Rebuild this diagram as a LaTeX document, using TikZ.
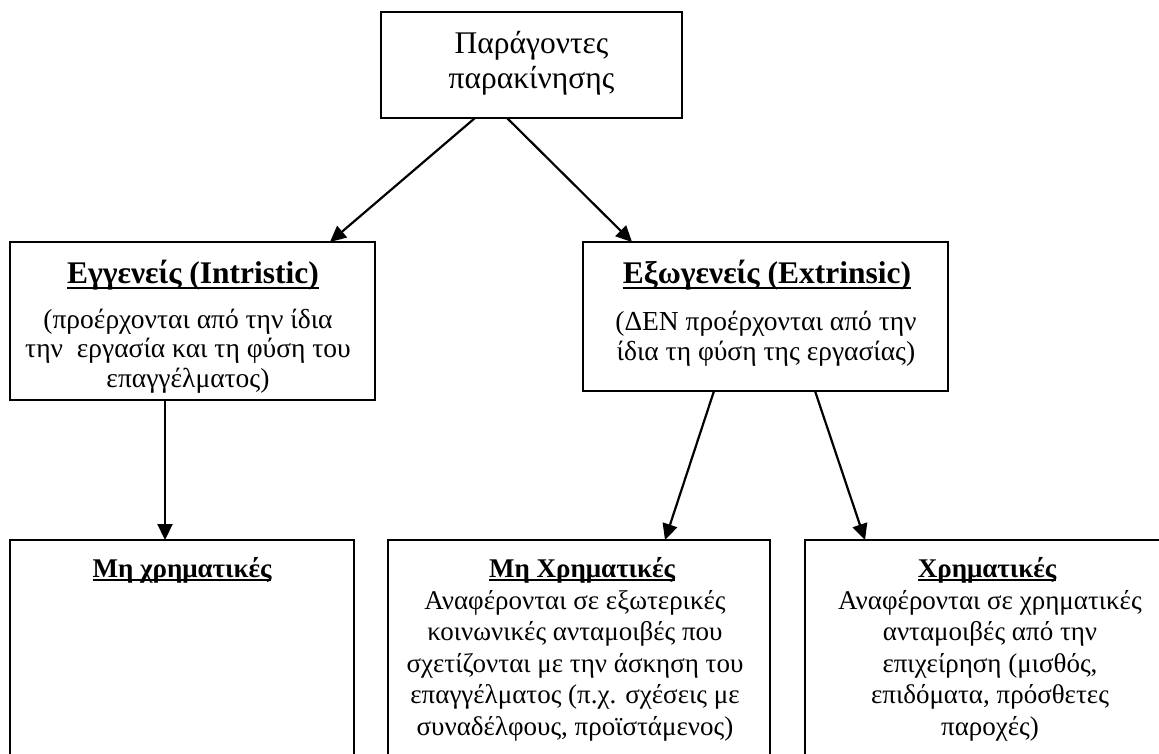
\documentclass[tikz,border=0pt]{standalone}
\usepackage{fontspec}
\setmainfont{Liberation Serif}
\usetikzlibrary{arrows.meta}
% bold heading with a rule drawn under it (optional argument: depth of the rule)
\newcommand\hdline[2][0.2em]{\setbox0\hbox{#2}\rlap{\rule[-#1]{\wd0}{0.07em}}\box0}
\tikzset{
  box/.style={draw, line width=2.2pt, rectangle, inner sep=0pt, outer sep=0pt},
  conn/.style={line width=2.2pt, -{Triangle[length=16pt,width=15pt]}},
  title/.style={inner sep=0pt, align=center, anchor=north, font=\fontsize{31.5}{35}\selectfont},
  head/.style={inner sep=0pt, anchor=base, font=\fontsize{31.5}{35}\selectfont\bfseries},
  subhead/.style={inner sep=0pt, anchor=base, font=\fontsize{27}{31}\selectfont\bfseries},
  body/.style={inner sep=0pt, align=center, anchor=north, font=\fontsize{27.5}{29.7}\selectfont},
  lowbody/.style={inner sep=0pt, align=center, anchor=north, font=\fontsize{27}{31.5}\selectfont},
}
\begin{document}
\begin{tikzpicture}[x=1pt,y=-1pt]
\useasboundingbox (0,0) rectangle (1159,754);
\fill[white] (0,0) rectangle (1159,754);
\clip (0,0) rectangle (1159,754);

% boxes
\node[box, minimum width=301pt, minimum height=106pt] (top) at (531.5,65) {};
\node[box, minimum width=365pt, minimum height=158pt] (intr) at (192.5,321) {};
\node[box, minimum width=365pt, minimum height=149pt] (extr) at (765.5,316.5) {};
\node[box, minimum width=344pt, minimum height=240pt] (nonfinA) at (182,660) {};
\node[box, minimum width=382pt, minimum height=240pt] (nonfinB) at (579,660) {};
\node[box, minimum width=370pt, minimum height=240pt] (fin) at (990,660) {};

% texts
\node[title] (toptext) at (531.5,28.5) {\strut Παράγοντες\\παρακίνησης};

\node[head] (intrhead) at (193,283) {\hdline{Εγγενείς (Intristic)}};
\node[body] (intrtext) at (188,307.2) {\strut(προέρχονται από την ίδια\\την\ \ εργασία και τη φύση του\\επαγγέλματος)};

\node[head] (extrhead) at (767,283) {\hdline{Εξωγενείς (Extrinsic)}};
\node[body] (extrtext) at (766,310) {\strut(ΔΕΝ προέρχονται από την\\ίδια τη φύση της εργασίας)};

\node[subhead] (nonfinAhead) at (182,577) {\hdline[0.13em]{Μη χρηματικές}};

\node[subhead] (nonfinBhead) at (582,577) {\hdline[0.13em]{Μη Χρηματικές}};
\node[lowbody] (nonfinBtext) at (575,587) {\strut Αναφέρονται σε εξωτερικές\\κοινωνικές ανταμοιβές που\\σχετίζονται με την άσκηση του\\επαγγέλματος (π.χ. σχέσεις με\\συναδέλφους, προϊστάμενος)};

\node[subhead] (finhead) at (987,577) {\hdline[0.13em]{Χρηματικές}};
\node[lowbody] (fintext) at (990,587) {\strut Αναφέρονται σε χρηματικές\\ανταμοιβές από την\\επιχείρηση (μισθός,\\επιδόματα, πρόσθετες\\παροχές)};

% connectors
\draw[conn] ([xshift=-56.5pt]top.south) -- ([xshift=137.5pt]intr.north);
\draw[conn] ([xshift=-24.5pt]top.south) -- ([xshift=-133.5pt]extr.north);
\draw[conn] ([xshift=-27.5pt]intr.south) -- ([xshift=-27.5pt]intr.south |- nonfinA.north);
\draw[conn] ([xshift=-51.5pt]extr.south) -- ([xshift=86pt]nonfinB.north);
\draw[conn] ([xshift=49.5pt]extr.south) -- ([xshift=-125pt]fin.north);
\end{tikzpicture}
\end{document}
